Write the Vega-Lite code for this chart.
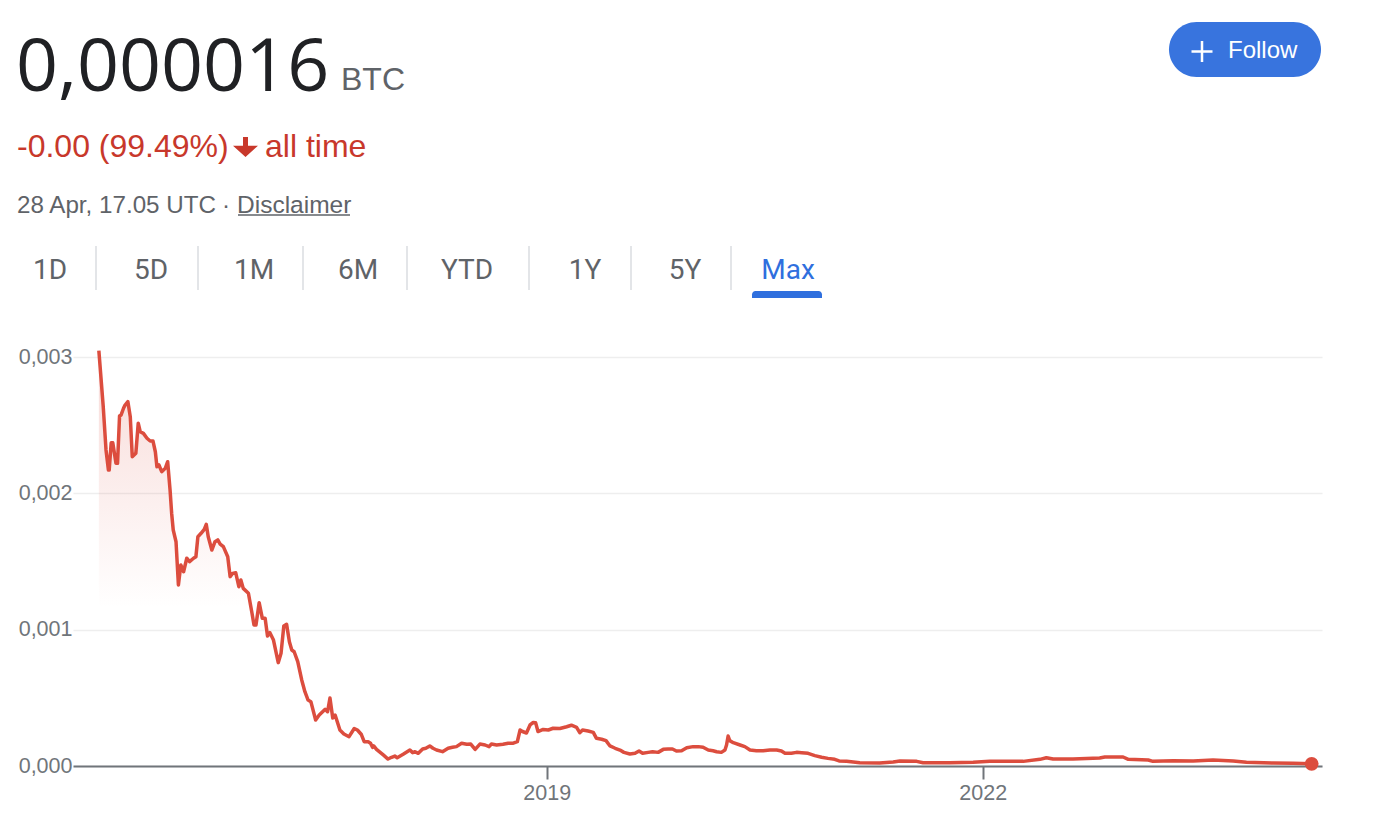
{
  "$schema": "https://vega.github.io/schema/vega-lite/v6.json",
  "width": 1249,
  "height": 409,
  "autosize": {"type": "none"},
  "padding": {"left": 73, "top": 357, "right": 62, "bottom": 52},
  "background": "#ffffff",
  "config": {"font": "Liberation Sans", "view": {"stroke": null}},
  "layer": [
    {
      "data": {"values": [
        {"date":"2015-12-02","price":0.003046},{"date":"2015-12-13","price":0.002636},{"date":"2015-12-20","price":0.002318},{"date":"2015-12-26","price":0.002171},{"date":"2015-12-28","price":0.002171},
        {"date":"2016-01-02","price":0.002371},{"date":"2016-01-06","price":0.002371},{"date":"2016-01-14","price":0.002220},{"date":"2016-01-18","price":0.002220},{"date":"2016-01-23","price":0.002567},
        {"date":"2016-01-27","price":0.002575},{"date":"2016-02-02","price":0.002624},{"date":"2016-02-05","price":0.002643},{"date":"2016-02-13","price":0.002672},{"date":"2016-02-19","price":0.002562},
        {"date":"2016-02-24","price":0.002269},{"date":"2016-03-04","price":0.002294},{"date":"2016-03-10","price":0.002514},{"date":"2016-03-15","price":0.002452},{"date":"2016-03-23","price":0.002440},
        {"date":"2016-04-01","price":0.002404},{"date":"2016-04-09","price":0.002384},{"date":"2016-04-16","price":0.002384},{"date":"2016-04-22","price":0.002305},{"date":"2016-04-26","price":0.002195},
        {"date":"2016-05-01","price":0.002208},{"date":"2016-05-08","price":0.002159},{"date":"2016-05-17","price":0.002184},{"date":"2016-05-23","price":0.002232},{"date":"2016-05-29","price":0.002025},
        {"date":"2016-06-02","price":0.001854},{"date":"2016-06-06","price":0.001731},{"date":"2016-06-13","price":0.001645},{"date":"2016-06-19","price":0.001328},{"date":"2016-06-25","price":0.001474},
        {"date":"2016-07-02","price":0.001425},{"date":"2016-07-10","price":0.001524},{"date":"2016-07-17","price":0.001499},{"date":"2016-07-27","price":0.001524},{"date":"2016-08-02","price":0.001535},
        {"date":"2016-08-07","price":0.001682},{"date":"2016-08-15","price":0.001707},{"date":"2016-08-23","price":0.001736},{"date":"2016-08-28","price":0.001773},{"date":"2016-09-02","price":0.001682},
        {"date":"2016-09-11","price":0.001584},{"date":"2016-09-19","price":0.001645},{"date":"2016-09-26","price":0.001658},{"date":"2016-10-02","price":0.001628},{"date":"2016-10-10","price":0.001609},
        {"date":"2016-10-21","price":0.001535},{"date":"2016-10-27","price":0.001389},{"date":"2016-11-02","price":0.001413},{"date":"2016-11-10","price":0.001418},{"date":"2016-11-18","price":0.001315},
        {"date":"2016-11-23","price":0.001364},{"date":"2016-11-29","price":0.001303},{"date":"2016-12-12","price":0.001267},{"date":"2016-12-21","price":0.001120},{"date":"2016-12-26","price":0.001034},
        {"date":"2016-12-31","price":0.001034},{"date":"2017-01-08","price":0.001198},{"date":"2017-01-16","price":0.001083},{"date":"2017-01-23","price":0.001083},{"date":"2017-01-29","price":0.000954},
        {"date":"2017-02-04","price":0.000978},{"date":"2017-02-13","price":0.000924},{"date":"2017-02-25","price":0.000758},{"date":"2017-03-04","price":0.000827},{"date":"2017-03-11","price":0.001027},
        {"date":"2017-03-18","price":0.001039},{"date":"2017-03-25","price":0.000912},{"date":"2017-03-31","price":0.000851},{"date":"2017-04-06","price":0.000838},{"date":"2017-04-15","price":0.000765},
        {"date":"2017-04-25","price":0.000631},{"date":"2017-05-03","price":0.000545},{"date":"2017-05-11","price":0.000484},{"date":"2017-05-18","price":0.000472},{"date":"2017-05-30","price":0.000337},
        {"date":"2017-06-08","price":0.000374},{"date":"2017-06-23","price":0.000416},{"date":"2017-06-29","price":0.000398},{"date":"2017-07-05","price":0.000499},{"date":"2017-07-12","price":0.000352},
        {"date":"2017-07-18","price":0.000374},{"date":"2017-07-30","price":0.000264},{"date":"2017-08-09","price":0.000235},{"date":"2017-08-22","price":0.000215},{"date":"2017-09-04","price":0.000275},
        {"date":"2017-09-12","price":0.000264},{"date":"2017-09-22","price":0.000231},{"date":"2017-09-29","price":0.000178},{"date":"2017-10-09","price":0.000178},{"date":"2017-10-15","price":0.000167},
        {"date":"2017-10-20","price":0.000137},{"date":"2017-10-23","price":0.000147},{"date":"2017-10-30","price":0.000122},{"date":"2017-11-16","price":0.000081},{"date":"2017-11-28","price":0.000051},
        {"date":"2017-12-07","price":0.000064},{"date":"2017-12-15","price":0.000073},{"date":"2017-12-21","price":0.000061},{"date":"2018-01-05","price":0.000086},{"date":"2018-01-22","price":0.000117},
        {"date":"2018-01-29","price":0.000098},{"date":"2018-02-04","price":0.000105},{"date":"2018-02-12","price":0.000093},{"date":"2018-02-23","price":0.000125},{"date":"2018-03-03","price":0.000130},
        {"date":"2018-03-13","price":0.000147},{"date":"2018-03-21","price":0.000130},{"date":"2018-03-30","price":0.000117},{"date":"2018-04-14","price":0.000105},{"date":"2018-04-28","price":0.000130},
        {"date":"2018-05-09","price":0.000137},{"date":"2018-05-19","price":0.000142},{"date":"2018-06-01","price":0.000167},{"date":"2018-06-14","price":0.000159},{"date":"2018-06-24","price":0.000161},
        {"date":"2018-07-05","price":0.000122},{"date":"2018-07-17","price":0.000161},{"date":"2018-07-30","price":0.000154},{"date":"2018-08-09","price":0.000142},{"date":"2018-08-15","price":0.000161},
        {"date":"2018-08-28","price":0.000154},{"date":"2018-09-13","price":0.000159},{"date":"2018-09-26","price":0.000167},{"date":"2018-10-09","price":0.000167},{"date":"2018-10-19","price":0.000178},
        {"date":"2018-10-26","price":0.000264},{"date":"2018-11-01","price":0.000253},{"date":"2018-11-11","price":0.000242},{"date":"2018-11-20","price":0.000301},{"date":"2018-11-28","price":0.000319},
        {"date":"2018-12-04","price":0.000318},{"date":"2018-12-10","price":0.000253},{"date":"2018-12-23","price":0.000268},{"date":"2019-01-05","price":0.000264},{"date":"2019-01-17","price":0.000277},
        {"date":"2019-02-03","price":0.000275},{"date":"2019-02-20","price":0.000288},{"date":"2019-03-04","price":0.000299},{"date":"2019-03-17","price":0.000284},{"date":"2019-03-25","price":0.000244},
        {"date":"2019-04-01","price":0.000264},{"date":"2019-04-15","price":0.000257},{"date":"2019-04-28","price":0.000247},{"date":"2019-05-06","price":0.000203},{"date":"2019-05-19","price":0.000196},
        {"date":"2019-05-30","price":0.000186},{"date":"2019-06-09","price":0.000147},{"date":"2019-06-22","price":0.000130},{"date":"2019-07-04","price":0.000117},{"date":"2019-07-14","price":0.000100},
        {"date":"2019-07-29","price":0.000088},{"date":"2019-08-11","price":0.000093},{"date":"2019-08-21","price":0.000110},{"date":"2019-08-30","price":0.000093},{"date":"2019-09-13","price":0.000100},
        {"date":"2019-09-24","price":0.000105},{"date":"2019-10-08","price":0.000100},{"date":"2019-10-21","price":0.000122},{"date":"2019-11-02","price":0.000125},{"date":"2019-11-13","price":0.000125},
        {"date":"2019-11-23","price":0.000110},{"date":"2019-12-06","price":0.000112},{"date":"2019-12-19","price":0.000134},{"date":"2020-01-04","price":0.000142},{"date":"2020-01-17","price":0.000142},
        {"date":"2020-01-29","price":0.000137},{"date":"2020-02-11","price":0.000117},{"date":"2020-02-23","price":0.000112},{"date":"2020-03-03","price":0.000105},{"date":"2020-03-15","price":0.000100},
        {"date":"2020-03-24","price":0.000117},{"date":"2020-03-28","price":0.000154},{"date":"2020-04-01","price":0.000220},{"date":"2020-04-05","price":0.000186},{"date":"2020-04-14","price":0.000171},
        {"date":"2020-05-01","price":0.000154},{"date":"2020-05-13","price":0.000142},{"date":"2020-05-26","price":0.000117},{"date":"2020-06-11","price":0.000112},{"date":"2020-06-28","price":0.000112},
        {"date":"2020-07-15","price":0.000117},{"date":"2020-08-01","price":0.000117},{"date":"2020-08-13","price":0.000110},{"date":"2020-08-22","price":0.000093},{"date":"2020-09-07","price":0.000093},
        {"date":"2020-09-20","price":0.000100},{"date":"2020-10-03","price":0.000098},{"date":"2020-10-19","price":0.000093},{"date":"2020-11-05","price":0.000076},{"date":"2020-11-22","price":0.000064},
        {"date":"2020-12-08","price":0.000056},{"date":"2020-12-25","price":0.000049},{"date":"2021-01-05","price":0.000037},{"date":"2021-01-24","price":0.000034},{"date":"2021-02-26","price":0.000024},
        {"date":"2021-04-17","price":0.000022},{"date":"2021-05-21","price":0.000029},{"date":"2021-06-07","price":0.000037},{"date":"2021-07-19","price":0.000034},{"date":"2021-08-04","price":0.000024},
        {"date":"2021-10-10","price":0.000024},{"date":"2021-12-08","price":0.000027},{"date":"2022-01-19","price":0.000034},{"date":"2022-04-13","price":0.000034},{"date":"2022-05-25","price":0.000049},
        {"date":"2022-06-10","price":0.000061},{"date":"2022-06-27","price":0.000051},{"date":"2022-08-16","price":0.000051},{"date":"2022-10-22","price":0.000059},{"date":"2022-11-04","price":0.000066},
        {"date":"2022-12-20","price":0.000066},{"date":"2023-01-02","price":0.000049},{"date":"2023-02-21","price":0.000044},{"date":"2023-03-05","price":0.000034},{"date":"2023-04-25","price":0.000039},
        {"date":"2023-06-14","price":0.000037},{"date":"2023-08-03","price":0.000044},{"date":"2023-09-23","price":0.000037},{"date":"2023-10-26","price":0.000027},{"date":"2024-01-01","price":0.000022},
        {"date":"2024-02-20","price":0.000020},{"date":"2024-04-07","price":0.000016}
      ]},
      "encoding": {
        "x": {
          "field": "date", "type": "temporal",
          "scale": {"type": "utc", "domain": [1443398400000, 1714694400000]},
          "axis": {
            "title": null, "values": [1546300800000, 1640995200000], "format": "%Y",
            "grid": false, "domain": true, "domainColor": "#70757a", "domainWidth": 2,
            "ticks": true, "tickColor": "#70757a", "tickSize": 13, "tickWidth": 2,
            "labelFontSize": 21.5, "labelColor": "#70757a", "labelPadding": 3, "labelFlush": false
          }
        },
        "y": {
          "field": "price", "type": "quantitative",
          "scale": {"domain": [0, 0.003], "nice": false, "zero": true},
          "axis": {
            "title": null, "values": [0, 0.001, 0.002, 0.003],
            "labelExpr": "replace(format(datum.value, '.3f'), '.', ',')",
            "grid": true, "gridColor": "#eeeeee", "gridWidth": 1.5,
            "domain": false, "ticks": false,
            "labelFontSize": 21.5, "labelColor": "#70757a", "labelPadding": 1, "labelBaseline": "middle"
          }
        }
      },
      "layer": [
        {
          "mark": {
            "type": "area",
            "fill": {"gradient": "linear", "x1": 0, "y1": 0, "x2": 0, "y2": 1,
              "stops": [
                {"offset": 0, "color": "rgba(219,68,55,0.2)"},
                {"offset": 0.62, "color": "rgba(219,68,55,0)"}
              ]}
          }
        },
        {
          "mark": {"type": "line", "color": "#dc4d3e", "strokeWidth": 3.5, "strokeJoin": "round"}
        },
        {
          "transform": [{"filter": "datum.price === 0.000016"}],
          "mark": {"type": "point", "shape": "circle", "filled": true, "color": "#dc4d3e", "size": 190, "opacity": 1}
        }
      ]
    },
    {
      "data": {"values": [{}]},
      "mark": {"type": "text", "text": "0,000016", "font": "Open Sans", "fontSize": 73.5, "color": "#202124", "align": "left", "baseline": "alphabetic"},
      "encoding": {"x": {"value": -57}, "y": {"value": -266}}
    },
    {
      "data": {"values": [{}]},
      "mark": {"type": "text", "text": "BTC", "fontSize": 32, "color": "#5f6368", "align": "left", "baseline": "alphabetic"},
      "encoding": {"x": {"value": 268}, "y": {"value": -267}}
    },
    {
      "data": {"values": [{}]},
      "mark": {"type": "text", "text": "-0.00 (99.49%)", "fontSize": 32, "color": "#c8382b", "align": "left", "baseline": "alphabetic"},
      "encoding": {"x": {"value": -56}, "y": {"value": -200}}
    },
    {
      "data": {"values": [{}]},
      "mark": {"type": "point", "shape": "M-0.2,-0.8L0.2,-0.8L0.2,-0.1L1,-0.1L0,0.8L-1,-0.1L-0.2,-0.1Z", "filled": true, "color": "#c8382b", "size": 625, "opacity": 1},
      "encoding": {"x": {"value": 172.5}, "y": {"value": -210}}
    },
    {
      "data": {"values": [{}]},
      "mark": {"type": "text", "text": "all time", "fontSize": 32, "color": "#c8382b", "align": "left", "baseline": "alphabetic"},
      "encoding": {"x": {"value": 192}, "y": {"value": -200}}
    },
    {
      "data": {"values": [{}]},
      "mark": {"type": "text", "text": "28 Apr, 17.05 UTC", "fontSize": 24.2, "color": "#5f6368", "align": "left", "baseline": "alphabetic"},
      "encoding": {"x": {"value": -56}, "y": {"value": -144}}
    },
    {
      "data": {"values": [{}]},
      "mark": {"type": "text", "text": "·", "fontSize": 24.2, "color": "#5f6368", "align": "center", "baseline": "alphabetic"},
      "encoding": {"x": {"value": 153}, "y": {"value": -144}}
    },
    {
      "data": {"values": [{}]},
      "mark": {"type": "text", "text": "Disclaimer", "fontSize": 24.5, "color": "#5f6368", "align": "left", "baseline": "alphabetic"},
      "encoding": {"x": {"value": 164}, "y": {"value": -144}}
    },
    {
      "data": {"values": [{}]},
      "mark": {"type": "rule", "color": "#5f6368", "strokeWidth": 1.5},
      "encoding": {"x": {"value": 165}, "x2": {"value": 277}, "y": {"value": -142}}
    },
    {
      "data": {"values": [{}]},
      "mark": {"type": "text", "text": "1D", "font": "Roboto", "fontSize": 28, "color": "#5f6368", "align": "center", "baseline": "alphabetic"},
      "encoding": {"x": {"value": -23}, "y": {"value": -78}}
    },
    {
      "data": {"values": [{}]},
      "mark": {"type": "text", "text": "5D", "font": "Roboto", "fontSize": 28, "color": "#5f6368", "align": "center", "baseline": "alphabetic"},
      "encoding": {"x": {"value": 78}, "y": {"value": -78}}
    },
    {
      "data": {"values": [{}]},
      "mark": {"type": "text", "text": "1M", "font": "Roboto", "fontSize": 28, "color": "#5f6368", "align": "center", "baseline": "alphabetic"},
      "encoding": {"x": {"value": 181}, "y": {"value": -78}}
    },
    {
      "data": {"values": [{}]},
      "mark": {"type": "text", "text": "6M", "font": "Roboto", "fontSize": 28, "color": "#5f6368", "align": "center", "baseline": "alphabetic"},
      "encoding": {"x": {"value": 285}, "y": {"value": -78}}
    },
    {
      "data": {"values": [{}]},
      "mark": {"type": "text", "text": "YTD", "font": "Roboto", "fontSize": 28, "color": "#5f6368", "align": "center", "baseline": "alphabetic"},
      "encoding": {"x": {"value": 394}, "y": {"value": -78}}
    },
    {
      "data": {"values": [{}]},
      "mark": {"type": "text", "text": "1Y", "font": "Roboto", "fontSize": 28, "color": "#5f6368", "align": "center", "baseline": "alphabetic"},
      "encoding": {"x": {"value": 512}, "y": {"value": -78}}
    },
    {
      "data": {"values": [{}]},
      "mark": {"type": "text", "text": "5Y", "font": "Roboto", "fontSize": 28, "color": "#5f6368", "align": "center", "baseline": "alphabetic"},
      "encoding": {"x": {"value": 612}, "y": {"value": -78}}
    },
    {
      "data": {"values": [{}]},
      "mark": {"type": "text", "text": "Max", "font": "Roboto", "fontSize": 28, "color": "#2f6fde", "align": "center", "baseline": "alphabetic"},
      "encoding": {"x": {"value": 715}, "y": {"value": -78}}
    },
    {"data": {"values": [{}]}, "mark": {"type": "rule", "color": "#dadce0", "strokeWidth": 1.5}, "encoding": {"x": {"value": 23}, "y": {"value": -111}, "y2": {"value": -67}}},
    {"data": {"values": [{}]}, "mark": {"type": "rule", "color": "#dadce0", "strokeWidth": 1.5}, "encoding": {"x": {"value": 125}, "y": {"value": -111}, "y2": {"value": -67}}},
    {"data": {"values": [{}]}, "mark": {"type": "rule", "color": "#dadce0", "strokeWidth": 1.5}, "encoding": {"x": {"value": 230}, "y": {"value": -111}, "y2": {"value": -67}}},
    {"data": {"values": [{}]}, "mark": {"type": "rule", "color": "#dadce0", "strokeWidth": 1.5}, "encoding": {"x": {"value": 334}, "y": {"value": -111}, "y2": {"value": -67}}},
    {"data": {"values": [{}]}, "mark": {"type": "rule", "color": "#dadce0", "strokeWidth": 1.5}, "encoding": {"x": {"value": 456}, "y": {"value": -111}, "y2": {"value": -67}}},
    {"data": {"values": [{}]}, "mark": {"type": "rule", "color": "#dadce0", "strokeWidth": 1.5}, "encoding": {"x": {"value": 558}, "y": {"value": -111}, "y2": {"value": -67}}},
    {"data": {"values": [{}]}, "mark": {"type": "rule", "color": "#dadce0", "strokeWidth": 1.5}, "encoding": {"x": {"value": 658}, "y": {"value": -111}, "y2": {"value": -67}}},
    {
      "data": {"values": [{}]},
      "mark": {"type": "rect", "color": "#2f6fde", "cornerRadiusTopLeft": 5, "cornerRadiusTopRight": 5},
      "encoding": {"x": {"value": 679}, "x2": {"value": 749}, "y": {"value": -66}, "y2": {"value": -59}}
    },
    {
      "data": {"values": [{}]},
      "mark": {"type": "rect", "color": "#3874de", "cornerRadius": 27.5},
      "encoding": {"x": {"value": 1096}, "x2": {"value": 1248}, "y": {"value": -335}, "y2": {"value": -280}}
    },
    {
      "data": {"values": [{}]},
      "mark": {"type": "point", "shape": "M-1,0L1,0M0,-1L0,1", "filled": false, "stroke": "#ffffff", "strokeWidth": 2.5, "size": 441, "opacity": 1},
      "encoding": {"x": {"value": 1129}, "y": {"value": -305.5}}
    },
    {
      "data": {"values": [{}]},
      "mark": {"type": "text", "text": "Follow", "fontSize": 24, "color": "#ffffff", "align": "left", "baseline": "alphabetic"},
      "encoding": {"x": {"value": 1155}, "y": {"value": -299.5}}
    }
  ]
}
